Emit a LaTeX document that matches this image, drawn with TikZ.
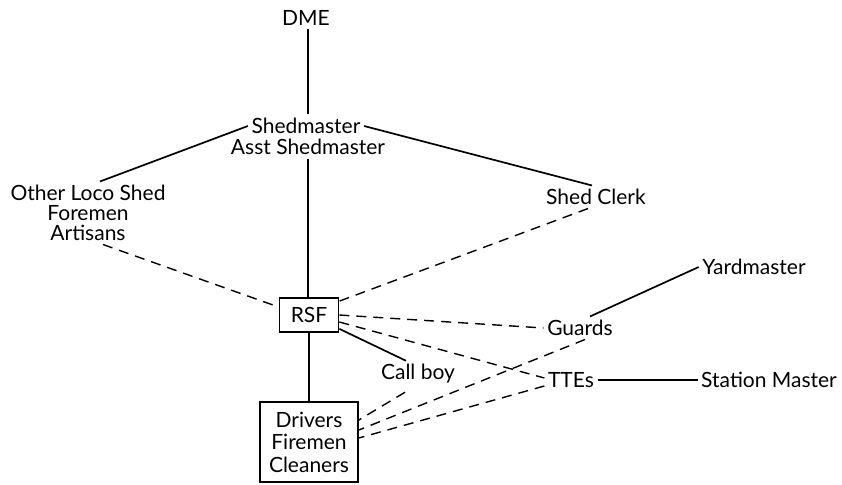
\documentclass[tikz,border=0pt]{standalone}
\usepackage{fontspec}
\setmainfont{Lato}
\begin{document}
\begin{tikzpicture}[x=1pt, y=-1pt,
    post/.style={font=\fontsize{21}{20}\selectfont, inner sep=3.5pt, align=center},
    box/.style={post, draw, line width=1.7pt},
    link/.style={line width=1.7pt},
    loose/.style={line width=1.4pt, dash pattern=on 10pt off 7pt}]

    \useasboundingbox (0,0) rectangle (842,484);

    % Posts
    \node[post] (dme) at (306,18) {DME};
    \node[post] (shed) at (306,126) {Shedmaster};
    \node[post] (asst) at (308,147) {Asst Shedmaster};
    \node[post] (loco) at (88,213) {Other Loco Shed\\Foremen\\Artisans};
    \node[post] (clerk) at (596,197) {Shed Clerk};
    \node[box, minimum width=59pt, minimum height=34pt] (rsf) at (309,315) {RSF};
    \node[box, minimum width=98pt, minimum height=80pt,
          font=\fontsize{21}{22.5}\selectfont] (crew) at (309,442) {Drivers\\Firemen\\Cleaners};
    \node[post] (call) at (418,374) {Call boy};
    \node[post] (guards) at (580,328) {Guards};
    \node[post] (yard) at (754,267) {Yardmaster};
    \node[post] (ttes) at (571,380) {TTEs};
    \node[post] (stm) at (769,380) {Station Master};

    % Line of command
    \draw[link] (dme.south -| asst.south) -- (asst.north |- shed.north);
    \draw[link] (shed.west) -- ([xshift=12pt]loco.north);
    \draw[link] (shed.east) -- ([xshift=-4pt]clerk.north);
    \draw[link] (asst.south) -- (asst.south |- rsf.north);
    \draw[link] (rsf.south) -- (rsf.south |- crew.north);
    \draw[link] ([yshift=4pt]rsf.south east) -- ([xshift=-12pt]call.north);
    \draw[link] ([xshift=10pt]guards.north) -- (yard.west);
    \draw[link] (ttes.east) -- (stm.west);

    % Liaison
    \draw[loose] ([xshift=15pt]loco.south) -- ([yshift=8pt]rsf.west);
    \draw[loose] ([xshift=-8pt]clerk.south) -- ([yshift=-4pt]rsf.north east);
    \draw[loose] (rsf.east) -- (guards.west);
    \draw[loose] ([yshift=-7pt]rsf.east) -- ([yshift=2pt]ttes.west);
    \draw[loose] ([xshift=-13pt, yshift=-5pt]call.south) -- ([yshift=22pt]crew.east);
    \draw[loose] ([xshift=5pt]guards.south) -- ([yshift=12pt]crew.east);
    \draw[loose] ([yshift=-6pt]ttes.west) -- ([yshift=4pt]crew.east);

\end{tikzpicture}
\end{document}
